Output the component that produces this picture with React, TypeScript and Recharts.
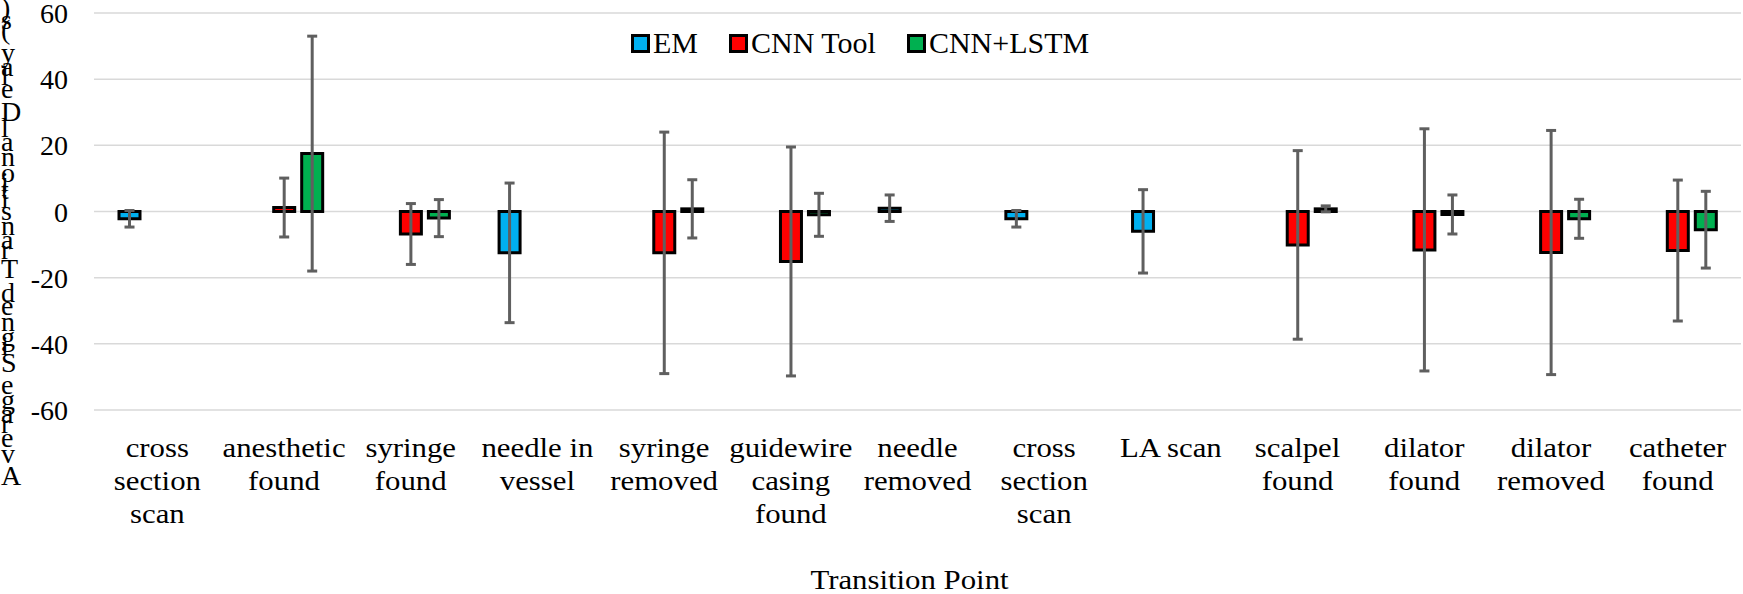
import React from "react"
import {
  BarChart,
  Bar,
  XAxis,
  YAxis,
  CartesianGrid,
  ErrorBar,
  Legend,
} from "recharts"

// x axis categories, one entry per transition point (lines as they wrap)
const categories = [
  ["cross", "section", "scan"],
  ["anesthetic", "found"],
  ["syringe", "found"],
  ["needle in", "vessel"],
  ["syringe", "removed"],
  ["guidewire", "casing", "found"],
  ["needle", "removed"],
  ["cross", "section", "scan"],
  ["LA scan"],
  ["scalpel", "found"],
  ["dilator", "found"],
  ["dilator", "removed"],
  ["catheter", "found"],
]

const emValues = [-2.2, null, null, -12.5, null, null, 1.0, -2.2, -6.0, null, null, null, null]
const emErrors = [2.5, null, null, 21.1, null, null, 4.0, 2.5, 12.6, null, null, null, null]
const cnnValues = [null, 1.2, -6.8, null, -12.5, -15.1, null, null, null, -10.1, -11.6, -12.4, -11.8]
const cnnErrors = [null, 8.9, 9.2, null, 36.5, 34.6, null, null, null, 28.5, 36.6, 36.9, 21.3]
const lstmValues = [null, 17.5, -2.0, null, 0.8, -1.0, null, null, null, 0.8, -0.9, -2.2, -5.5]
const lstmErrors = [null, 35.5, 5.6, null, 8.8, 6.5, null, null, null, 0.9, 5.9, 5.9, 11.6]

const yTicks = [-60, -40, -20, 0, 20, 40, 60]

const seriesNames = ["EM", "CNN Tool", "CNN+LSTM"]
const seriesColors = ["#00b0f0", "#ff0000", "#00b050"]

const yTitle = "Average Signed Transitional Delay (s)"
const xTitle = "Transition Point"

const data = categories.map((_, i) => ({
  idx: i,
  em: emValues[i],
  emErr: emErrors[i],
  cnn: cnnValues[i],
  cnnErr: cnnErrors[i],
  lstm: lstmValues[i],
  lstmErr: lstmErrors[i],
}))

const FONT = "'Liberation Serif', 'Times New Roman', serif"
const ERR = "#5f5f5f"
const STRETCH = 1.1 // the source text is a bit wider than plain Times

// rough Times advance widths, used to stack the y title glyphs
const charW: Record<string, number> = {
  A: 722, v: 500, e: 444, r: 333, a: 444, g: 500, " ": 250, S: 556, i: 278,
  n: 500, d: 500, T: 611, s: 389, t: 278, o: 500, l: 278, D: 722, y: 500,
  "(": 333, ")": 333,
}

const wide = (x: number) => `translate(${x},0) scale(${STRETCH},1) translate(${-x},0)`

const CategoryTick = (props: any) => {
  const { x, y, payload } = props
  const lines = categories[payload.value] || []
  return (
    <text
      x={x}
      y={y}
      textAnchor="middle"
      fontFamily={FONT}
      fontSize={28}
      fill="#000"
      transform={wide(x)}
    >
      {lines.map((l, i) => (
        <tspan key={i} x={x} y={y + 47 + i * 33}>
          {l}
        </tspan>
      ))}
    </text>
  )
}

const ValueTick = (props: any) => {
  const { y, payload } = props
  return (
    <text x={68} y={y} dy={10} textAnchor="end" fontFamily={FONT} fontSize={28} fill="#000">
      {payload.value}
    </text>
  )
}

const YTitle = () => {
  let pos = 485
  const glyphs = yTitle.split("").map((c, i) => {
    const yy = pos
    pos -= ((charW[c] || 500) * 31) / 1000
    return (
      <tspan key={i} x={1} y={yy}>
        {c}
      </tspan>
    )
  })
  return (
    <text fontFamily={FONT} fontSize={28} fill="#000" style={{ whiteSpace: "pre" }}>
      {glyphs}
    </text>
  )
}

const XTitle = (props: any) => {
  const { viewBox } = props
  const cx = viewBox.x + viewBox.width / 2 - 8
  return (
    <text
      x={cx}
      y={viewBox.y + 179}
      textAnchor="middle"
      fontFamily={FONT}
      fontSize={28}
      fill="#000"
      transform={wide(cx)}
    >
      {xTitle}
    </text>
  )
}

const LegendBox = () => (
  <div style={{ display: "flex", alignItems: "center", fontFamily: FONT, fontSize: 30, lineHeight: "30px" }}>
    {seriesNames.map((name, i) => (
      <div key={name} style={{ display: "flex", alignItems: "center", marginRight: i < 2 ? 31 : 0 }}>
        <div
          style={{
            width: 19,
            height: 19,
            boxSizing: "border-box",
            border: "3px solid #000",
            background: seriesColors[i],
            marginRight: 3,
          }}
        />
        <span>{name}</span>
      </div>
    ))}
  </div>
)

export default function App() {
  return (
    <div style={{ position: "absolute", left: 0, top: 0, background: "#fff" }}>
      <BarChart
        width={1743}
        height={594}
        data={data}
        margin={{ top: 13, right: 2, left: 0, bottom: 0 }}
        barSize={21}
        barGap={7}
      >
        <CartesianGrid vertical={false} stroke="#d9d9d9" strokeWidth={1.5} />
        <XAxis
          dataKey="idx"
          height={184}
          axisLine={false}
          tickLine={false}
          tickSize={0}
          tickMargin={0}
          interval={0}
          tick={<CategoryTick />}
          label={<XTitle />}
        />
        <YAxis
          width={94}
          domain={[-60, 60]}
          ticks={yTicks}
          axisLine={false}
          tickLine={false}
          tick={<ValueTick />}
          label={<YTitle />}
        />
        <Legend
          layout="horizontal"
          verticalAlign="middle"
          align="center"
          wrapperStyle={{ top: 28, left: 631, width: 520 }}
          content={<LegendBox />}
        />
        <Bar dataKey="em" name="EM" fill={seriesColors[0]} stroke="#000" strokeWidth={3} isAnimationActive={false}>
          <ErrorBar dataKey="emErr" width={5} strokeWidth={3} stroke={ERR} />
        </Bar>
        <Bar dataKey="cnn" name="CNN Tool" fill={seriesColors[1]} stroke="#000" strokeWidth={3} isAnimationActive={false}>
          <ErrorBar dataKey="cnnErr" width={5} strokeWidth={3} stroke={ERR} />
        </Bar>
        <Bar dataKey="lstm" name="CNN+LSTM" fill={seriesColors[2]} stroke="#000" strokeWidth={3} isAnimationActive={false}>
          <ErrorBar dataKey="lstmErr" width={5} strokeWidth={3} stroke={ERR} />
        </Bar>
      </BarChart>
    </div>
  )
}
